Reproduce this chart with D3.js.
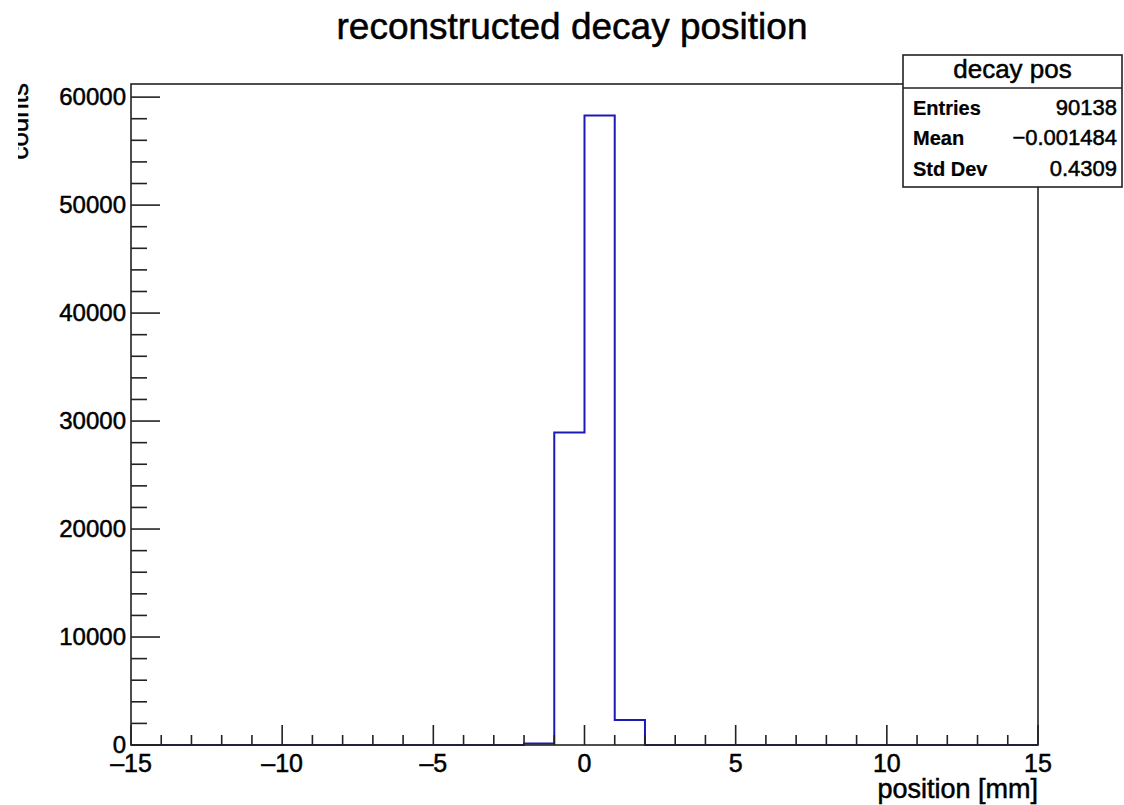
<!DOCTYPE html>
<html>
<head>
<meta charset="utf-8">
<script src="https://cdn.jsdelivr.net/npm/d3@7"></script>
<style>
  body { margin: 0; background: #fff; }
  svg text { font-family: "Liberation Sans", Arial, Helvetica, sans-serif; fill: #000; stroke: #000; stroke-width: 0.5px; }
</style>
</head>
<body>
<script>
// histogram bins, 1 mm wide from -15 to 15
const binLow = [-15, -14, -13, -12, -11, -10, -9, -8, -7, -6, -5, -4, -3, -2, -1,
                 0, 1, 2, 3, 4, 5, 6, 7, 8, 9, 10, 11, 12, 13, 14];
const counts = [0, 0, 0, 0, 0, 0, 0, 0, 0, 0, 0, 0, 0, 150, 28950,
                58300, 2320, 0, 0, 0, 0, 0, 0, 0, 0, 0, 0, 0, 0, 0];
const binWidth = 1;

const xTicks = [-15, -10, -5, 0, 5, 10, 15];
const yTicks = [0, 10000, 20000, 30000, 40000, 50000, 60000];

const statLabels = ["Entries", "Mean", "Std Dev"];
const statValues = ["90138", "\u22120.001484", "0.4309"];
const statTitle = "decay pos";

const title = "reconstructed decay position";
const xTitle = "position [mm]";
const yTitle = "counts";

const width = 1124, height = 805;
const frame = {left: 131, right: 1038, top: 84, bottom: 745};

const svg = d3.select("body").append("svg")
    .attr("width", width)
    .attr("height", height);

const x = d3.scaleLinear()
    .domain([-15, 15])
    .range([frame.left, frame.right]);

const y = d3.scaleLinear()
    .domain([0, d3.max(counts) * 1.05])
    .range([frame.bottom, frame.top]);

// histogram outline, steps only (like ROOT's default hist draw)
let pts = [];
binLow.forEach((lo, i) => {
  pts.push([x(lo), y(counts[i])]);
  pts.push([x(lo + binWidth), y(counts[i])]);
});
const line = d3.line();
svg.append("path")
    .attr("d", line(pts))
    .attr("fill", "none")
    .attr("stroke", "#1a1ab4")
    .attr("stroke-width", 2);

// frame
svg.append("rect")
    .attr("x", frame.left)
    .attr("y", frame.top)
    .attr("width", frame.right - frame.left)
    .attr("height", frame.bottom - frame.top)
    .attr("fill", "none")
    .attr("stroke", "#222")
    .attr("stroke-width", 1.6);

// x ticks (inward)
const xMinor = d3.range(-15, 15.01, 1);
xMinor.forEach(v => {
  const major = xTicks.includes(v);
  svg.append("line")
      .attr("x1", x(v)).attr("x2", x(v))
      .attr("y1", frame.bottom).attr("y2", frame.bottom - (major ? 20 : 10))
      .attr("stroke", "#222").attr("stroke-width", 1.6);
});
svg.selectAll(".xlab")
  .data(xTicks)
  .enter().append("text")
    .attr("x", d => x(d))
    .attr("y", 772)
    .attr("text-anchor", "middle")
    .style("font-size", "25px")
    .text(d => d < 0 ? "\u2013" + Math.abs(d) : d);

// y ticks (inward)
const yMinor = d3.range(0, y.domain()[1], 2000);
yMinor.forEach(v => {
  const major = yTicks.includes(v);
  svg.append("line")
      .attr("x1", frame.left).attr("x2", frame.left + (major ? 29 : 16))
      .attr("y1", y(v)).attr("y2", y(v))
      .attr("stroke", "#222").attr("stroke-width", 1.6);
});
svg.selectAll(".ylab")
  .data(yTicks)
  .enter().append("text")
    .attr("x", 126)
    .attr("y", d => y(d) + 7.5)
    .attr("text-anchor", "end")
    .style("font-size", "24px")
    .text(d => d);

// axis titles
svg.append("text")
    .attr("x", frame.right)
    .attr("y", 798)
    .attr("text-anchor", "end")
    .style("font-size", "27px")
    .text(xTitle);

svg.append("clipPath").attr("id", "yclip")
  .append("rect").attr("x", 18).attr("y", 0).attr("width", 60).attr("height", 300);
svg.append("g").attr("clip-path", "url(#yclip)")
  .append("text")
    .attr("transform", "translate(28,83) rotate(-90)")
    .attr("text-anchor", "end")
    .style("font-size", "26px")
    .text(yTitle);

// title
svg.append("text")
    .attr("x", 572)
    .attr("y", 39)
    .attr("text-anchor", "middle")
    .style("font-size", "37px")
    .text(title);

// stats box
const box = {left: 903, right: 1122, top: 55, bottom: 187, head: 88};
svg.append("rect")
    .attr("x", box.left).attr("y", box.top)
    .attr("width", box.right - box.left).attr("height", box.bottom - box.top)
    .attr("fill", "#fff").attr("stroke", "#222").attr("stroke-width", 1.6);
svg.append("line")
    .attr("x1", box.left).attr("x2", box.right)
    .attr("y1", box.head).attr("y2", box.head)
    .attr("stroke", "#222").attr("stroke-width", 1.6);
svg.append("text")
    .attr("x", (box.left + box.right) / 2)
    .attr("y", 78)
    .attr("text-anchor", "middle")
    .style("font-size", "26px")
    .text(statTitle);
const rowY = [115, 145, 176];
statLabels.forEach((s, i) => {
  svg.append("text")
      .attr("x", 913).attr("y", rowY[i])
      .style("font-size", "20px")
      .style("font-weight", "bold")
      .style("stroke-width", "0.2px")
      .text(s);
  svg.append("text")
      .attr("x", 1117).attr("y", rowY[i])
      .attr("text-anchor", "end")
      .style("font-size", "22px")
      .text(statValues[i]);
});
</script>
</body>
</html>
